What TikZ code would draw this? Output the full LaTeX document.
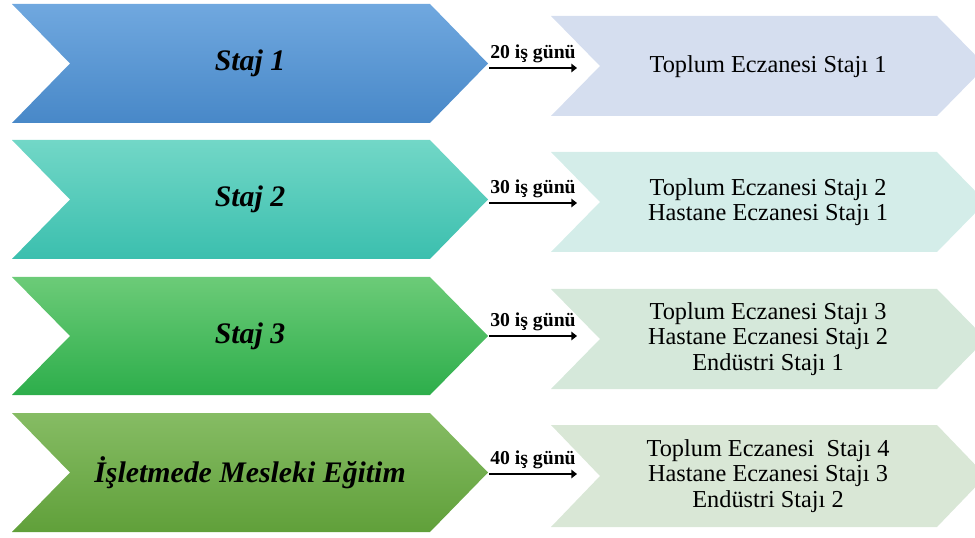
\documentclass[tikz,border=0pt]{standalone}
\usepackage{fontspec}
\setmainfont{Liberation Serif}
\usetikzlibrary{positioning,arrows.meta}

\definecolor{blueA}{HTML}{70A8DF}
\definecolor{blueB}{HTML}{4888C8}
\definecolor{tealA}{HTML}{72D7C7}
\definecolor{tealB}{HTML}{3BBFAE}
\definecolor{greenA}{HTML}{6CCB78}
\definecolor{greenB}{HTML}{2DAE4B}
\definecolor{oliveA}{HTML}{86BC64}
\definecolor{oliveB}{HTML}{60A03A}
\definecolor{paleblue}{HTML}{D5DEEF}
\definecolor{paleteal}{HTML}{D4EDE9}
\definecolor{palegreen}{HTML}{D5E8DA}
\definecolor{paleolive}{HTML}{D9E7D6}

\begin{document}
\begin{tikzpicture}[x=0.025cm,y=-0.025cm,
    stajname/.style={font=\fontsize{21.2}{25}\selectfont\bfseries\itshape},
    stajlist/.style={font=\fontsize{17.3}{18}\selectfont, align=center},
    days/.style={font=\fontsize{14}{16}\selectfont\bfseries, above, inner sep=3pt},
    dayarrow/.style={line width=2pt, -{Triangle[length=4pt,width=6pt]}}]
    \useasboundingbox (0,0) rectangle (975,538);
    \clip (0,0) rectangle (975,538);

    % left chevrons
    \foreach \ya/\yb/\ca/\cb in {4/123/blueA/blueB, 140/259/tealA/tealB, 277/395/greenA/greenB, 413/532/oliveA/oliveB} {
        \shade[top color=\ca, bottom color=\cb] (12,\ya) -- (430,\ya) -- (488,{(\ya+\yb)/2}) -- (430,\yb) -- (12,\yb) -- (70,{(\ya+\yb)/2}) -- cycle;
    }
    % right chevrons
    \foreach \ya/\yb/\cc in {16/116/paleblue, 152/252/paleteal, 289/389/palegreen, 425/527/paleolive} {
        \fill[\cc] (551,\ya) -- (937,\ya) -- (986,{(\ya+\yb)/2}) -- (937,\yb) -- (551,\yb) -- (600,{(\ya+\yb)/2}) -- cycle;
    }

    % names
    \node[stajname] (s1) at (250,63.5) {Staj 1};
    \node[stajname] (s2) at (250,199.5) {Staj 2};
    \node[stajname] (s3) at (250,336) {Staj 3};
    \node[stajname] (s4) at (250,472.5) {İşletmede Mesleki Eğitim};

    % contents
    \node[stajlist] (l1) at (768,67) {Toplum Eczanesi Stajı 1};
    \node[stajlist] (l2) at (768,202) {Toplum Eczanesi Stajı 2\\Hastane Eczanesi Stajı 1};
    \node[stajlist] (l3) at (768,339) {Toplum Eczanesi Stajı 3\\Hastane Eczanesi Stajı 2\\Endüstri Stajı 1};
    \node[stajlist] (l4) at (768,476) {Toplum Eczanesi~ Stajı 4\\Hastane Eczanesi Stajı 3\\Endüstri Stajı 2};

    % durations
    \coordinate (a1) at (489,68);  \coordinate (b1) at (577,68);
    \coordinate (a2) at (489,203); \coordinate (b2) at (577,203);
    \coordinate (a3) at (489,336); \coordinate (b3) at (577,336);
    \coordinate (a4) at (489,474); \coordinate (b4) at (577,474);
    \draw[dayarrow] (a1) -- node[days] {20 iş günü} (b1);
    \draw[dayarrow] (a2) -- node[days] {30 iş günü} (b2);
    \draw[dayarrow] (a3) -- node[days] {30 iş günü} (b3);
    \draw[dayarrow] (a4) -- node[days] {40 iş günü} (b4);
\end{tikzpicture}
\end{document}
